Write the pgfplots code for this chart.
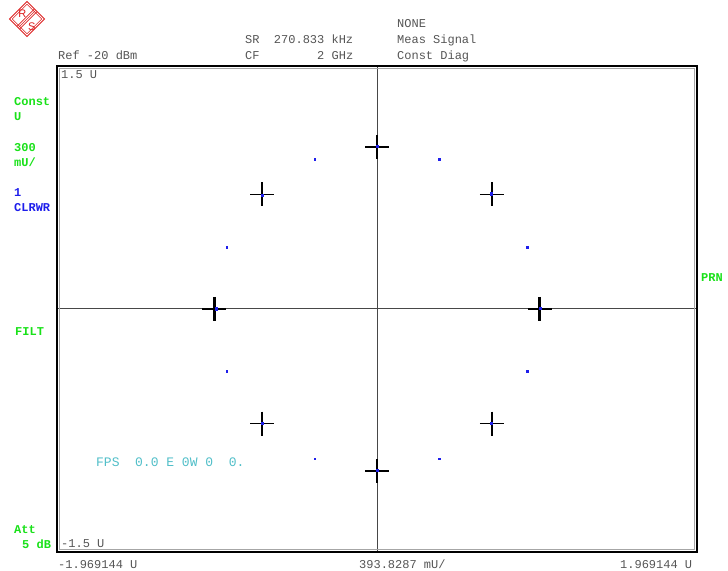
\documentclass[border=0pt]{standalone}
\usepackage{pgfplots}
\pgfplotsset{compat=1.18}
\usepackage{fontspec}
\setmainfont{Liberation Sans}
\newfontfamily\mono{Liberation Mono}[WordSpace={1,0,0}]
\newfontfamily\logofont{Liberation Sans}
\definecolor{txtgray}{RGB}{85,85,85}
\definecolor{rsgreen}{RGB}{25,225,25}
\definecolor{rsblue}{RGB}{30,30,235}
\definecolor{rscyan}{RGB}{80,190,200}
\definecolor{rsred}{RGB}{220,30,30}
\newcommand\tx{\mono\fontsize{12bp}{14bp}\selectfont}
\newcommand\tb{\mono\bfseries\fontsize{12bp}{14bp}\selectfont}
\newcommand\tc{\mono\fontsize{13bp}{15bp}\selectfont}
\pgfplotstableread{
x y
0.7071 0.7071
0.7071 -0.7071
-0.7071 -0.7071
-0.7071 0.7071
}\idealdiag
\pgfplotstableread{
x y
0 1
1 0
0 -1
-1 0
}\idealaxis
\pgfplotstableread{
x y
-0.383 0.924
0.383 0.924
0.924 0.383
0.924 -0.383
0.383 -0.924
-0.383 -0.924
-0.924 -0.383
-0.924 0.383
}\rotated
\pgfplotstableread{
x y
0.003 1.005
0.705 0.712
1.004 0.003
0.703 -0.703
0.002 -0.997
-0.705 -0.705
-0.990 0.002
-0.708 0.704
}\measured
\begin{document}
\begin{tikzpicture}
\path[use as bounding box] (-57bp,-19bp) rectangle (671bp,552bp);
\begin{axis}[
  at={(0,0)}, anchor=south west,
  scale only axis, width=640bp, height=486bp,
  xmin=-1.969144, xmax=1.969144, ymin=-1.5, ymax=1.5,
  xtick={0}, ytick={0}, xticklabels={}, yticklabels={},
  major tick length=0pt, tick style={draw=none},
  grid=major, grid style={color=black!72, line width=1bp},
  axis line style={black, line width=2bp},
  clip=false,
]
\draw[gray!70, line width=1.2bp] ([xshift=2.6bp,yshift=2.6bp]rel axis cs:0,0) rectangle ([xshift=-2.6bp,yshift=-2.6bp]rel axis cs:1,1);
\addplot[only marks, mark=+, mark size=12bp, mark options={line width=1.7bp, black}] table[x=x,y=y] {\idealdiag};
\addplot[only marks, mark=+, mark size=12bp, mark options={line width=2.2bp, black}] table[x=x,y=y] {\idealaxis};
\addplot[only marks, mark=square*, mark size=1.1bp, mark options={rsblue, draw=rsblue}] table[x=x,y=y] {\measured};
\addplot[only marks, mark=square*, mark size=0.8bp, mark options={rsblue, draw=rsblue}] table[x=x,y=y] {\rotated};
\end{axis}
\begin{scope}[shift={(-57bp,552bp)}, x=1bp, y=-1bp]
  % logo
  \draw[rsred, line width=1bp] (27,1.5) -- (44.5,19) -- (27,36.5) -- (9.5,19) -- cycle;
  \draw[rsred, line width=0.6bp] (27,4.3) -- (41.7,19) -- (27,33.7) -- (12.3,19) -- cycle;
  \draw[rsred, line width=0.6bp] (17.2,26.2) -- (34.2,9.2);
  \draw[rsred, line width=0.6bp] (19.8,28.8) -- (36.8,11.8);
  \draw[rsred, line width=0.6bp] (18.5,27.5) -- (35.5,10.5);
  \node[rsred, inner sep=0, anchor=base] at (22.3,18) {\logofont\fontsize{11bp}{12bp}\selectfont R};
  \node[rsred, inner sep=0, anchor=base] at (31.8,30.5) {\logofont\fontsize{11bp}{12bp}\selectfont S};
  % header
  \node[anchor=base west, inner sep=0, text=txtgray] at (58,59.5) {\tx Ref~-20~dBm};
  \node[anchor=base west, inner sep=0, text=txtgray] at (245,44) {\tx SR~~270.833~kHz};
  \node[anchor=base west, inner sep=0, text=txtgray] at (245,59.5) {\tx CF~~~~~~~~2~GHz};
  \node[anchor=base west, inner sep=0, text=txtgray] at (397,28) {\tx NONE};
  \node[anchor=base west, inner sep=0, text=txtgray] at (397,44) {\tx Meas~Signal};
  \node[anchor=base west, inner sep=0, text=txtgray] at (397,59.5) {\tx Const~Diag};
  \node[anchor=base west, inner sep=0, text=txtgray] at (61,79) {\tx 1.5~U};
  \node[anchor=base west, inner sep=0, text=txtgray] at (61,547.5) {\tx -1.5~U};
  % bottom
  \node[anchor=base west, inner sep=0, text=txtgray] at (58,569) {\tx -1.969144~U};
  \node[anchor=base west, inner sep=0, text=txtgray] at (359,569) {\tx 393.8287~mU/};
  \node[anchor=base west, inner sep=0, text=txtgray] at (620,569) {\tx 1.969144~U};
  % left side
  \node[anchor=base west, inner sep=0, text=rsgreen] at (14,106) {\tb Const};
  \node[anchor=base west, inner sep=0, text=rsgreen] at (14,121) {\tb U};
  \node[anchor=base west, inner sep=0, text=rsgreen] at (14,152) {\tb 300};
  \node[anchor=base west, inner sep=0, text=rsgreen] at (14,167) {\tb mU/};
  \node[anchor=base west, inner sep=0, text=rsblue] at (14,197) {\tb 1};
  \node[anchor=base west, inner sep=0, text=rsblue] at (14,212) {\tb CLRWR};
  \node[anchor=base west, inner sep=0, text=rsgreen] at (15,336) {\tb FILT};
  \node[anchor=base west, inner sep=0, text=rsgreen] at (14,534) {\tb Att};
  \node[anchor=base west, inner sep=0, text=rsgreen] at (22,549) {\tb 5~dB};
  \node[anchor=base west, inner sep=0, text=rsgreen] at (701,282) {\tb PRN};
  % cyan
  \node[anchor=base west, inner sep=0, text=rscyan] at (96,467) {\tc FPS~~0.0~E~0W~0~~0.};
\end{scope}
\end{tikzpicture}
\end{document}
